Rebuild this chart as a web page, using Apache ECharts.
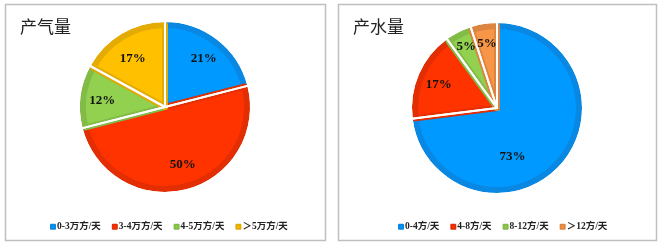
<!DOCTYPE html>
<html><head><meta charset="utf-8">
<script src="https://cdn.jsdelivr.net/npm/echarts@6/dist/echarts.min.js"></script>
<style>html,body{margin:0;padding:0;background:#fff}#c{width:661px;height:244px}</style>
</head><body><div id="c"></div>
<script>
const gasTitle = '产气量';
const gasCategories = ['0-3万方/天', '3-4万方/天', '4-5万方/天', '＞5万方/天'];
const gasValues = [21, 50, 12, 17];
const waterTitle = '产水量';
const waterCategories = ['0-4方/天', '4-8方/天', '8-12方/天', '＞12方/天'];
const waterValues = [73, 17, 5, 5];

const gasFill = ['#0099FF', '#FF3300', '#92D050', '#FFC000'];
const gasEdge = ['#0888E2', '#E22E02', '#82BB46', '#E3AB04'];
const waterFill = ['#0099FF', '#FF3300', '#92D050', '#F79646'];
const waterEdge = ['#0888E2', '#E22E02', '#82BB46', '#DD8540'];

const chart = echarts.init(document.getElementById('c'), null, {renderer: 'canvas'});
const R = 85;
const fontLabel = '"Liberation Serif", "Times New Roman", serif';
const fontLegend = '"Liberation Serif", "Noto Sans CJK SC", serif';

function pieSeries(cats, vals, fill, edge, center, labelOffsets) {
  const base = {
    type: 'pie', center: center, radius: [0, R - 3], startAngle: 90, clockwise: true,
    silent: true, animation: false,
    label: {show: false}, labelLine: {show: false},
    data: cats.map((n, i) => ({name: n, value: vals[i],
      itemStyle: {color: fill[i], borderColor: edge[i], borderWidth: 6}}))
  };
  const sep = {
    type: 'pie', center: center, radius: [0, R + 1], startAngle: 90, clockwise: true,
    silent: true, animation: false,
    label: {show: false}, labelLine: {show: false},
    data: cats.map((n, i) => ({name: n, value: vals[i],
      itemStyle: {color: 'rgba(0,0,0,0)', borderColor: '#ffffff', borderWidth: 2}}))
  };
  const lab = {
    type: 'pie', center: center, radius: [R * 0.42, R], startAngle: 90, clockwise: true,
    silent: true, animation: false,
    itemStyle: {color: 'rgba(0,0,0,0)'},
    label: {show: true, position: 'inside', formatter: '{c}%', color: '#111',
      fontFamily: fontLabel, fontWeight: 'bold', fontSize: 13},
    labelLine: {show: false},
    data: cats.map((n, i) => ({name: n, value: vals[i], itemStyle: {color: 'rgba(0,0,0,0)'},
      label: {offset: labelOffsets[i]}}))
  };
  return [base, sep, lab];
}

function legendFor(cats, fill, left) {
  return {
    data: cats.map((n, i) => ({name: n, icon: 'rect', itemStyle: {color: fill[i]}})),
    left: left, top: 217, itemWidth: 4, itemHeight: 4, itemGap: 11,
    selectedMode: false,
    textStyle: {fontFamily: fontLegend, fontSize: 9.5, fontWeight: 'bold', color: '#222', padding: [0, 0, 0, -3]}
  };
}

chart.setOption({
  animation: false,
  title: [
    {text: gasTitle, left: 15, top: 13, textStyle: {fontFamily: '"Noto Sans CJK SC"', fontSize: 17, fontWeight: 'normal', color: '#222'}},
    {text: waterTitle, left: 348, top: 13, textStyle: {fontFamily: '"Noto Sans CJK SC"', fontSize: 17, fontWeight: 'normal', color: '#222'}}
  ],
  legend: [legendFor(gasCategories, gasFill, 45), legendFor(waterCategories, waterFill, 393)],
  graphic: [
    {type: 'rect', shape: {x: 5.5, y: 4.5, width: 320, height: 236}, style: {fill: 'none', stroke: '#BFBFBF', lineWidth: 1.5}, z: -1},
    {type: 'rect', shape: {x: 338.5, y: 4.5, width: 318, height: 236}, style: {fill: 'none', stroke: '#BFBFBF', lineWidth: 1.5}, z: -1}
  ],
  series: [].concat(
    pieSeries(gasCategories, gasValues, gasFill, gasEdge, [165, 107], [[0, 2], [2, -4], [0, 2], [0, 6]]),
    pieSeries(waterCategories, waterValues, waterFill, waterEdge, [497, 108], [[-32, 7], [0, 2], [-2, -5], [0, -2]])
  )
});
</script></body></html>
